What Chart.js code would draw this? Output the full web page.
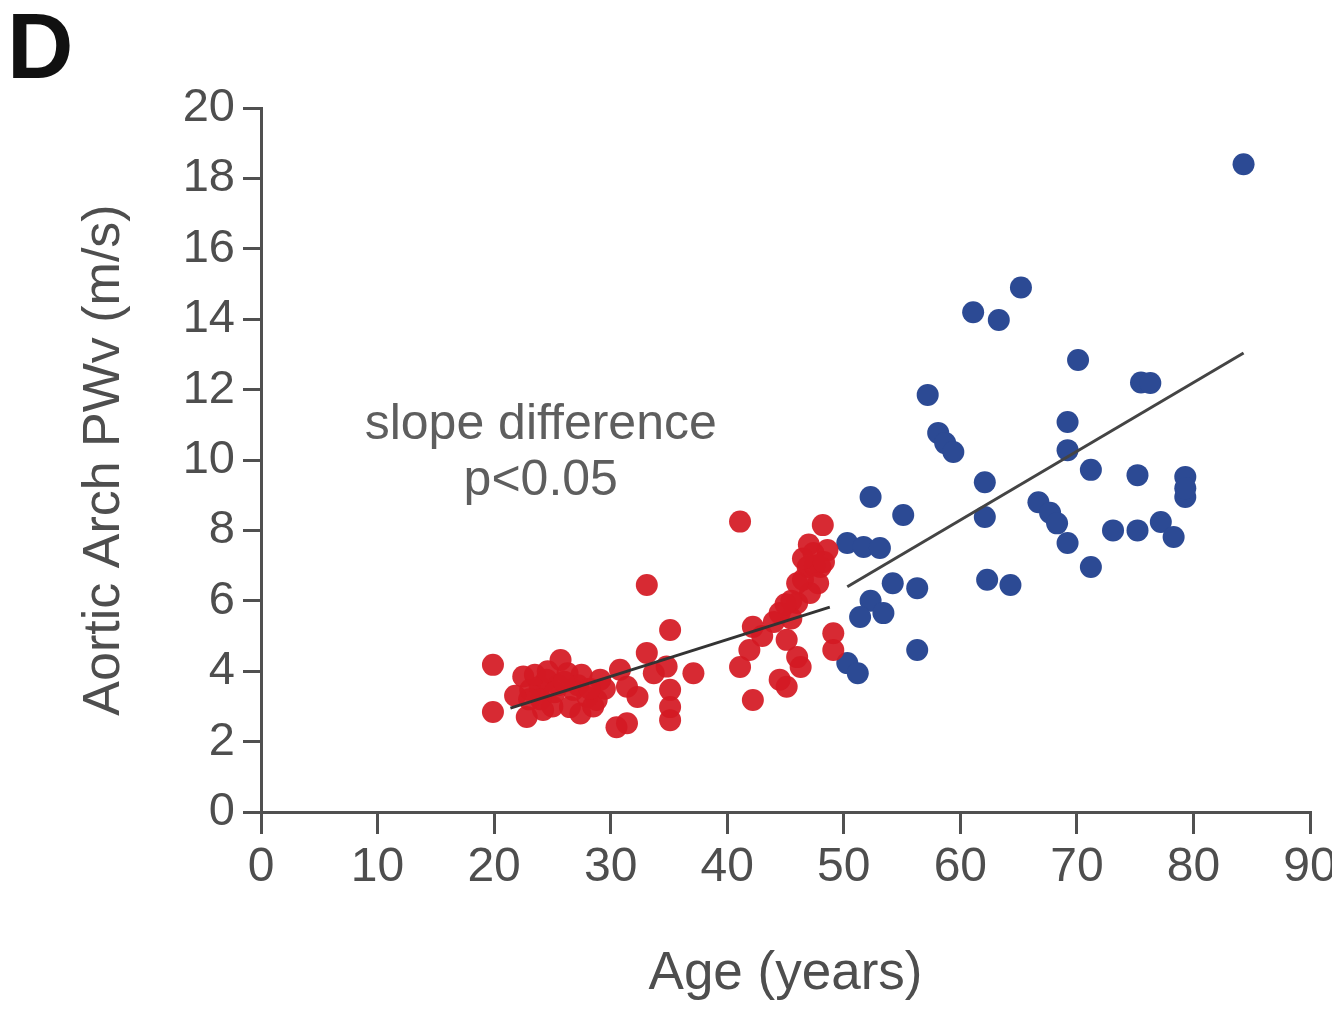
<!DOCTYPE html>
<html>
<head>
<meta charset="utf-8">
<script src="https://cdn.jsdelivr.net/npm/chart.js@4/dist/chart.umd.min.js"></script>
<style>
  html, body { margin: 0; padding: 0; background: #fff; }
  #wrap { width: 1332px; height: 1009px; }
</style>
</head>
<body>
<div id="wrap"><canvas id="c" width="1332" height="1009"></canvas></div>
<script>
// ---- data ----
const redAge = [19.9, 19.9, 22.5, 23.1, 22.8, 23.9, 24.5, 25.7, 26.3, 26.8, 26.5, 27.4, 28.0, 28.8, 29.1, 30.8, 31.4, 32.3, 33.1, 33.7, 34.8, 35.1, 35.1, 35.1, 37.1, 30.5, 31.4,
  33.1, 35.1, 41.1, 48.2, 47.4, 46.9, 46.5, 47.1, 46.0, 48.0, 48.6, 44.5, 42.2, 41.9, 41.1, 45.1, 46.0, 46.3, 44.5, 45.1, 42.2, 49.1, 49.1,
  24.0, 25.0, 24.2, 25.5, 27.5, 23.5, 29.5, 28.5, 24.6, 27.2, 45.5, 47.5, 47.8, 46.5, 44.0, 45.5, 43.0,
  47.0, 46.0, 48.3, 45.0, 23.0, 25.2, 26.0, 28.2, 21.8];
const redPWV = [4.18, 2.84, 3.85, 3.47, 2.70, 3.56, 3.76, 4.32, 3.94, 3.47, 2.98, 2.80, 3.27, 3.18, 3.76, 4.04, 3.56, 3.27, 4.52, 3.94, 4.13, 3.47, 2.98, 2.61, 3.94, 2.41, 2.52,
  6.45, 5.17, 8.25, 8.15, 7.36, 6.96, 6.60, 6.22, 5.94, 6.96, 7.44, 5.65, 5.26, 4.60, 4.12, 4.89, 4.40, 4.12, 3.76, 3.56, 3.18, 5.08, 4.60,
  3.20, 3.00, 2.90, 3.60, 3.90, 3.90, 3.50, 3.00, 4.00, 3.60, 6.00, 7.00, 6.50, 7.20, 5.40, 5.50, 5.00,
  7.60, 6.50, 7.10, 5.90, 3.20, 3.40, 3.70, 3.50, 3.30];

const blueAge = [65.2, 61.1, 63.3, 70.1, 75.5, 76.3, 57.2, 58.1, 58.7, 59.4, 69.2, 69.2, 71.2, 75.2, 79.3, 79.3, 62.1, 62.1, 66.7, 67.7, 68.3, 69.2, 71.2, 73.1, 75.2, 77.2, 78.3,
  52.3, 55.1, 50.3, 51.7, 53.1, 54.2, 56.3, 62.3, 64.3, 52.3, 53.4, 51.4, 56.3, 50.3, 51.2, 84.3, 79.3];
const bluePWV = [14.9, 14.2, 13.98, 12.84, 12.2, 12.19, 11.85, 10.77, 10.48, 10.23, 11.08, 10.28, 9.72, 9.57, 9.52, 8.95, 9.37, 8.38, 8.8, 8.5, 8.2, 7.64, 6.96, 8.0, 8.0, 8.24, 7.81,
  8.95, 8.44, 7.64, 7.53, 7.5, 6.5, 6.36, 6.6, 6.45, 6.0, 5.65, 5.54, 4.6, 4.23, 3.94, 18.4, 9.2];

const redFitAge = [21.4, 48.8];
const redFitPWV = [2.95, 5.82];
const blueFitAge = [50.3, 84.3];
const blueFitPWV = [6.4, 13.04];

const xTicks = [0, 10, 20, 30, 40, 50, 60, 70, 80, 90];
const yTicks = [0, 2, 4, 6, 8, 10, 12, 14, 16, 18, 20];

const panelLabel = 'D';
const noteLines = ['slope difference', 'p<0.05'];
const noteAge = 24.0;
const notePWV = [11.0, 9.4];

const toPts = (xs, ys) => xs.map((x, i) => ({ x: x, y: ys[i] }));
const FAM = '"Liberation Sans", Arial, sans-serif';

const textPlugin = {
  id: 'texts',
  afterDraw(chart) {
    const ctx = chart.ctx;
    const xs = chart.scales.x, ys = chart.scales.y;
    ctx.save();
    ctx.fillStyle = '#111';
    ctx.font = 'bold 92px ' + FAM;
    ctx.textAlign = 'left';
    ctx.textBaseline = 'alphabetic';
    ctx.fillText(panelLabel, 7, 78);
    ctx.fillStyle = '#5e5e5e';
    ctx.font = '50px ' + FAM;
    ctx.textAlign = 'center';
    ctx.textBaseline = 'middle';
    noteLines.forEach((t, i) => {
      ctx.fillText(t, xs.getPixelForValue(noteAge), ys.getPixelForValue(notePWV[i]));
    });
    ctx.restore();
  }
};

const axisColor = '#505050';
const textColor = '#4e4e4e';
new Chart(document.getElementById('c'), {
  type: 'scatter',
  data: {
    datasets: [
      { data: toPts(redFitAge, redFitPWV), showLine: true, borderColor: '#333', borderWidth: 3, pointRadius: 0, order: 0 },
      { data: toPts(blueFitAge, blueFitPWV), showLine: true, borderColor: '#444', borderWidth: 3, pointRadius: 0, order: 0 },
      { data: toPts(redAge, redPWV), backgroundColor: 'rgba(212,26,36,0.93)', borderWidth: 0, pointRadius: 11, order: 1 },
      { data: toPts(blueAge, bluePWV), backgroundColor: '#2c4a94', borderWidth: 0, pointRadius: 11, order: 1 }
    ]
  },
  options: {
    responsive: false,
    animation: false,
    events: [],
    layout: { padding: { left: 0, right: 22, top: 108, bottom: 0 } },
    plugins: { legend: { display: false }, tooltip: { enabled: false } },
    scales: {
      x: {
        type: 'linear', min: 0, max: 90,
        afterBuildTicks: (s) => { s.ticks = xTicks.map(v => ({ value: v })); },
        afterFit: (s) => { s.height = 197; s.paddingLeft = 0; s.paddingRight = 0; },
        ticks: { color: textColor, font: { size: 48, family: FAM }, padding: 5, maxRotation: 0, autoSkip: false },
        grid: { display: true, drawOnChartArea: false, drawTicks: true, tickLength: 22, color: axisColor, lineWidth: 3 },
        border: { display: true, color: axisColor, width: 3 },
        title: { display: true, text: 'Age (years)', color: textColor, font: { size: 53, family: FAM }, padding: { top: 0, bottom: 3 } }
      },
      y: {
        type: 'linear', min: 0, max: 20,
        afterBuildTicks: (s) => { s.ticks = yTicks.map(v => ({ value: v })); },
        afterFit: (s) => { s.width = 261; s.paddingTop = 0; s.paddingBottom = 0; },
        ticks: { color: textColor, font: { size: 47, family: FAM }, padding: 8, autoSkip: false },
        grid: { display: true, drawOnChartArea: false, drawTicks: true, tickLength: 18, color: axisColor, lineWidth: 3 },
        border: { display: true, color: axisColor, width: 3 },
        title: { display: true, text: 'Aortic Arch PWv (m/s)', color: textColor, font: { size: 52, family: FAM }, padding: { top: 73, bottom: 0 } }
      }
    }
  },
  plugins: [textPlugin]
});
</script>
</body>
</html>
